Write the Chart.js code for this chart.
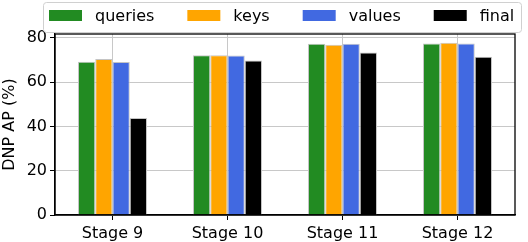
<!DOCTYPE html>
<html>
<head>
<meta charset="utf-8">
<script src="https://cdn.jsdelivr.net/npm/chart.js@4.4.0/dist/chart.umd.min.js"></script>
<style>
  html, body { margin: 0; padding: 0; background: #fff; }
</style>
</head>
<body>
<canvas id="chart" width="528" height="242"></canvas>
<script>
// values
const stages = ["Stage 9", "Stage 10", "Stage 11", "Stage 12"];
const queries = [69.2, 72.1, 77.3, 77.4];
const keys = [70.4, 72.1, 76.8, 77.8];
const values = [69.1, 72.0, 77.3, 77.4];
const finals = [43.8, 69.7, 73.3, 71.4];
const yTicks = [0, 20, 40, 60, 80];
const yMax = 81.7;

const FONT = '"DejaVu Sans", sans-serif';
Chart.defaults.font.family = FONT;
Chart.defaults.font.size = 16;
Chart.defaults.color = '#000';

// matplotlib-like legend box above the axes
const legendBox = {
    id: 'legendBox',
    afterDraw(chart) {
        const ctx = chart.ctx;
        ctx.save();
        ctx.beginPath();
        ctx.roundRect(43.5, 2.5, 478, 30, 3);
        ctx.fillStyle = '#fff';
        ctx.fill();
        ctx.strokeStyle = '#d0d0d0';
        ctx.lineWidth = 1;
        ctx.stroke();
        ctx.font = '16px ' + FONT;
        ctx.textBaseline = 'middle';
        let x = 49;
        chart.data.datasets.forEach(ds => {
            ctx.fillStyle = ds.backgroundColor;
            ctx.fillRect(x, 10, 33, 11);
            ctx.fillStyle = '#000';
            ctx.fillText(ds.label, x + 46, 16.5);
            x += 46 + ctx.measureText(ds.label).width + 33;
        });
        // top / right spines
        const a = chart.chartArea;
        ctx.strokeStyle = '#000';
        ctx.lineWidth = 1.3;
        ctx.strokeRect(a.left, a.top, a.right - a.left, a.bottom - a.top);
        ctx.restore();
    }
};

const bar = (label, data, color) => ({
    label: label,
    data: data,
    backgroundColor: color,
    borderColor: '#c4c4c4',
    borderWidth: 1,
    categoryPercentage: 0.6,
    barPercentage: 1.0
});

new Chart(document.getElementById('chart'), {
    type: 'bar',
    data: {
        labels: stages,
        datasets: [
            bar('queries', queries, '#228B22'),
            bar('keys', keys, '#FFA500'),
            bar('values', values, '#4169E1'),
            bar('final', finals, '#000000')
        ]
    },
    options: {
        responsive: false,
        animation: false,
        layout: { padding: { top: 34, right: 13, left: 0, bottom: 0 } },
        plugins: {
            legend: { display: false },
            tooltip: { enabled: false }
        },
        scales: {
            x: {
                z: 1,
                offset: true,
                grid: { offset: false, color: '#c8c8c8', lineWidth: 1, tickColor: '#000', tickLength: 5 },
                border: { color: '#000', width: 1.3 },
                ticks: { padding: 4, maxRotation: 0 },
                afterFit(s) { s.height = 27; }
            },
            y: {
                z: 1,
                min: 0,
                max: yMax,
                afterBuildTicks(s) { s.ticks = yTicks.map(v => ({ value: v })); },
                grid: { color: '#c8c8c8', lineWidth: 1, tickColor: '#000', tickLength: 5 },
                border: { color: '#000', width: 1.3 },
                ticks: { padding: 3 },
                title: { display: true, text: 'DNP AP (%)', padding: { top: 0, bottom: 0 } },
                afterFit(s) { s.width = 55; }
            }
        }
    },
    plugins: [legendBox]
});
</script>
</body>
</html>
